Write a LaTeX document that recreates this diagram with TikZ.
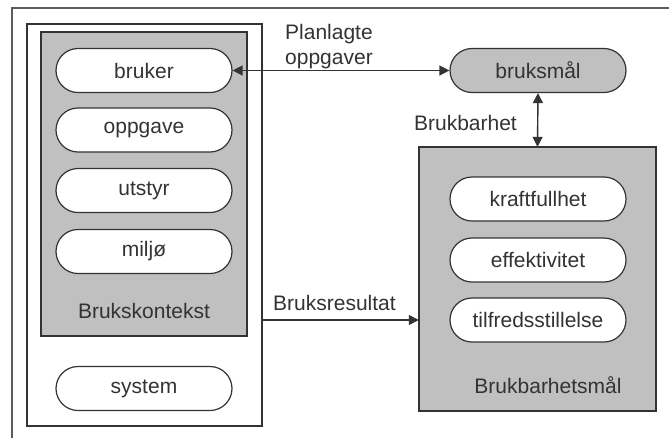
\documentclass[tikz,border=0pt]{standalone}
\usepackage{fontspec}
\setmainfont{Liberation Sans}
\usepackage{tikz}
\usetikzlibrary{arrows.meta,shapes.misc}

\definecolor{boxgray}{HTML}{C0C0C0}
\definecolor{ink}{HTML}{333333}

\begin{document}
\begin{tikzpicture}[x=1pt,y=-1pt, fill=white,
  font=\fontsize{21}{25}\selectfont, text=ink,
  pill/.style={rounded rectangle, draw=ink, line width=1.2pt, fill=white,
    minimum width=176pt, minimum height=44pt, inner sep=0pt},
  frame/.style={draw=ink, line width=1.4pt},
  lbl/.style={inner sep=0pt},
  link/.style={draw=ink, line width=1.4pt,
    {Triangle[length=10pt,width=10pt]}-{Triangle[length=10pt,width=10pt]}}]
\useasboundingbox (0,0) rectangle (669,437);
\draw[draw=ink!80, line width=2pt] (12,445) -- (12,8) -- (680,8);
\draw[frame, fill=white] (27,24) rectangle (262,426);
\node (sysbox) [inner sep=0pt, minimum width=235pt, minimum height=402pt] at (144.5,225) {};
\draw[frame, fill=boxgray] (41,32) rectangle (247,336);
\draw[frame, fill=boxgray] (419,147) rectangle (656,411);
\node (maal) [inner sep=0pt, minimum width=237pt, minimum height=264pt] at (537.5,279) {};
\node (bruker) [pill] at (144,70.5) {bruker};
\node (oppgave) [pill] at (144,130) {oppgave};
\node (utstyr) [pill] at (144,190.5) {utstyr};
\node (miljo) [pill] at (144,251.5) {miljø};
\node (kontekst) [lbl, anchor=base] at (144,318) {Brukskontekst};
\node (system) [pill] at (144,388.5) {system};
\node (bruksmal) [pill, fill=boxgray] at (538,70.5) {bruksmål};
\node (kraft) [pill] at (538,199) {kraftfullhet};
\node (effekt) [pill] at (538,260) {effektivitet};
\node (tilfreds) [pill] at (538,320) {tilfredsstillelse};
\node (maalnavn) [lbl, anchor=base] at (548,393) {Brukbarhetsmål};
\node (planlagte) [lbl, anchor=north west, align=left] at (285,24.5) {Planlagte\\oppgaver};
\node (brukbarhet) [lbl, anchor=base east] at (517,130) {Brukbarhet};
\node (resultat) [lbl, anchor=base west] at (273,310) {Bruksresultat};
\draw[link] (bruker.east) -- (bruksmal.west);
\draw[link] (bruksmal.south) -- (maal.north);
\draw[link, -{Triangle[length=10pt,width=10pt]}] (sysbox.east |- tilfreds) -- (maal.west |- tilfreds);
\end{tikzpicture}
\end{document}
